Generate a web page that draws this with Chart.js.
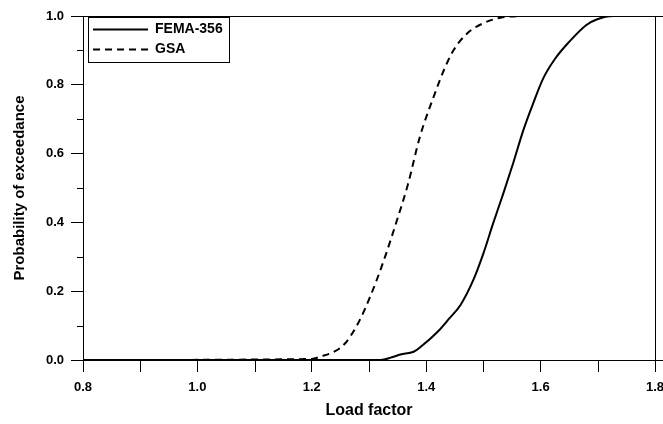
<!DOCTYPE html>
<html>
<head>
<meta charset="utf-8">
<script src="https://cdn.jsdelivr.net/npm/chart.js@4"></script>
<style>
  html, body { margin: 0; padding: 0; background: #fff; }
  #wrap { width: 663px; height: 424px; position: relative; }
</style>
</head>
<body>
<div id="wrap"><canvas id="c" width="663" height="424"></canvas></div>
<script>
// ---- Data ----
const seriesNames = ['FEMA-356', 'GSA'];

const loadFema = [0.8, 1.32, 1.34, 1.355, 1.378, 1.391, 1.42, 1.44, 1.46, 1.483, 1.5, 1.517, 1.535, 1.552, 1.57, 1.587, 1.605, 1.625, 1.65, 1.68, 1.698, 1.727, 1.8];
const probFema = [0, 0, 0.008, 0.016, 0.024, 0.039, 0.082, 0.12, 0.16, 0.235, 0.31, 0.397, 0.485, 0.572, 0.669, 0.746, 0.82, 0.875, 0.925, 0.974, 0.99, 1.0, 1.0];

const loadGsa = [0.8, 1.2, 1.215, 1.24, 1.258, 1.281, 1.302, 1.326, 1.349, 1.368, 1.389, 1.413, 1.431, 1.448, 1.472, 1.5, 1.53, 1.58, 1.8];
const probGsa = [0, 0.003, 0.01, 0.025, 0.048, 0.107, 0.184, 0.29, 0.407, 0.51, 0.649, 0.765, 0.843, 0.901, 0.95, 0.979, 0.995, 1.0, 1.0];

const xTicks = [0.8, 1.0, 1.2, 1.4, 1.6, 1.8];
const xMinorTicks = [0.9, 1.1, 1.3, 1.5, 1.7];
const yTicks = [0.0, 0.2, 0.4, 0.6, 0.8, 1.0];
const yMinorTicks = [0.1, 0.3, 0.5, 0.7, 0.9];

const xTitle = 'Load factor';
const yTitle = 'Probability of exceedance';

const FONT = '"Liberation Sans", Arial, sans-serif';

function pts(xs, ys) { return xs.map((x, i) => ({ x: x, y: ys[i] })); }

const frame = {
  id: 'frame',
  afterDraw(chart) {
    const ctx = chart.ctx;
    const a = chart.chartArea;
    const xs = chart.scales.x, ys = chart.scales.y;
    ctx.save();
    ctx.strokeStyle = '#000';
    ctx.lineWidth = 1;
    // minor ticks
    ctx.beginPath();
    xMinorTicks.forEach(v => {
      const px = Math.round(xs.getPixelForValue(v)) + 0.5;
      ctx.moveTo(px, a.bottom); ctx.lineTo(px, a.bottom + 12);
    });
    yMinorTicks.forEach(v => {
      const py = Math.round(ys.getPixelForValue(v)) + 0.5;
      ctx.moveTo(a.left, py); ctx.lineTo(a.left - 6, py);
    });
    ctx.stroke();
    // top line, right line, axis extension to right edge
    ctx.beginPath();
    const top = Math.round(ys.getPixelForValue(1)) + 0.5;
    const bot = Math.round(ys.getPixelForValue(0)) + 0.5;
    const right = Math.round(xs.getPixelForValue(1.8)) + 0.5;
    ctx.moveTo(a.left, top); ctx.lineTo(chart.width, top);
    ctx.moveTo(right, top); ctx.lineTo(right, bot);
    ctx.moveTo(a.left, bot); ctx.lineTo(chart.width, bot);
    ctx.stroke();

    // legend box
    const lx = 88, ly = 17, lw = 141, lh = 45;
    ctx.fillStyle = '#fff';
    ctx.fillRect(lx, ly, lw, lh);
    ctx.strokeRect(lx + 0.5, ly + 0.5, lw, lh);
    const rows = [29.5, 49.5];
    chart.data.datasets.forEach((ds, i) => {
      ctx.beginPath();
      ctx.lineWidth = 2;
      ctx.setLineDash(ds.borderDash || []);
      ctx.moveTo(93, rows[i]); ctx.lineTo(148, rows[i]);
      ctx.stroke();
      ctx.setLineDash([]);
      ctx.fillStyle = '#000';
      ctx.font = 'bold 14px ' + FONT;
      ctx.textBaseline = 'middle';
      ctx.textAlign = 'left';
      ctx.fillText(ds.label, 155, rows[i]);
    });
    ctx.restore();
  }
};

new Chart(document.getElementById('c'), {
  type: 'line',
  data: {
    datasets: [
      {
        label: seriesNames[0],
        data: pts(loadFema, probFema),
        borderColor: '#000',
        borderWidth: 2,
        pointRadius: 0,
        cubicInterpolationMode: 'monotone',
        fill: false
      },
      {
        label: seriesNames[1],
        data: pts(loadGsa, probGsa),
        borderColor: '#000',
        borderWidth: 2,
        borderDash: [7, 5],
        pointRadius: 0,
        cubicInterpolationMode: 'monotone',
        fill: false
      }
    ]
  },
  options: {
    responsive: false,
    animation: false,
    devicePixelRatio: 1,
    layout: { padding: { top: 16, right: 8, left: 0, bottom: 0 } },
    plugins: {
      legend: { display: false },
      tooltip: { enabled: false }
    },
    scales: {
      x: {
        type: 'linear',
        min: 0.8, max: 1.8,
        afterBuildTicks(scale) { scale.ticks = xTicks.map(v => ({ value: v })); },
        afterFit(scale) { scale.height = 64; scale.paddingLeft = 0; scale.paddingRight = 0; },
        ticks: {
          callback: v => v.toFixed(1),
          color: '#000',
          font: { family: FONT, size: 13, weight: 'bold' },
          padding: 8,
          maxRotation: 0,
          autoSkip: false
        },
        grid: { drawOnChartArea: false, drawTicks: true, tickLength: 12, color: '#000', lineWidth: 1 },
        border: { display: true, color: '#000', width: 1 },
        title: {
          display: true, text: xTitle, color: '#000',
          font: { family: FONT, size: 16, weight: 'bold' },
          padding: 4
        }
      },
      y: {
        type: 'linear',
        min: 0, max: 1,
        afterBuildTicks(scale) { scale.ticks = yTicks.map(v => ({ value: v })); },
        afterFit(scale) { scale.width = 83; scale.paddingTop = 0; scale.paddingBottom = 0; },
        ticks: {
          callback: v => v.toFixed(1),
          color: '#000',
          font: { family: FONT, size: 13, weight: 'bold' },
          padding: 7
        },
        grid: { drawOnChartArea: false, drawTicks: true, tickLength: 12, color: '#000', lineWidth: 1 },
        border: { display: true, color: '#000', width: 1 },
        title: {
          display: true, text: yTitle, color: '#000',
          font: { family: FONT, size: 15, weight: 'bold' },
          padding: 11
        }
      }
    }
  },
  plugins: [frame]
});
</script>
</body>
</html>
